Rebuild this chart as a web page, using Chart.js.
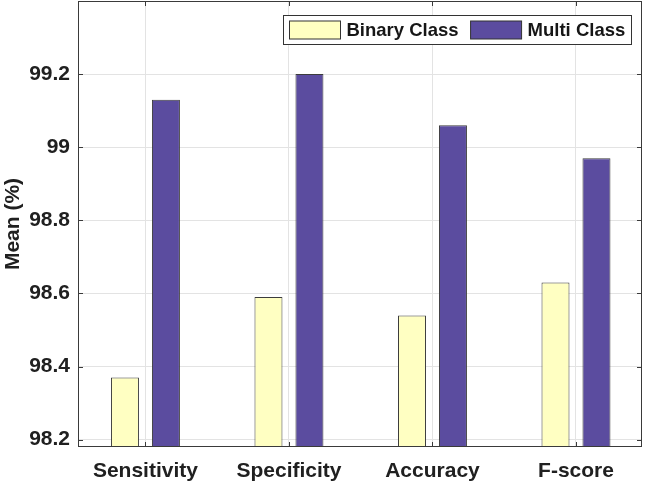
<!DOCTYPE html>
<html>
<head>
<meta charset="utf-8">
<script src="https://cdn.jsdelivr.net/npm/chart.js@4/dist/chart.umd.min.js"></script>
<style>
html,body{margin:0;padding:0;background:#fff;}
#wrap{width:645px;height:485px;position:relative;}
</style>
</head>
<body>
<div id="wrap"><canvas id="c" width="645" height="485"></canvas></div>
<script>
const categories = ['Sensitivity', 'Specificity', 'Accuracy', 'F-score'];
const binaryClass = [98.37, 98.59, 98.54, 98.63];
const multiClass = [99.13, 99.20, 99.06, 98.97];
const seriesNames = ['Binary Class', 'Multi Class'];
const yTicks = [98.2, 98.4, 98.6, 98.8, 99.0, 99.2];
const yTickLabels = ['98.2', '98.4', '98.6', '98.8', '99', '99.2'];

const FONT = "'Liberation Sans', Arial, Helvetica, sans-serif";
const AXIS = '#3a3a3a';
const GRID = '#e3e3e3';
const TEXT = '#202020';

const toXY = arr => arr.map((v, i) => ({x: i + 1, y: v}));

const framePlugin = {
  id: 'frame',
  afterDatasetsDraw(chart) {
    const {ctx, chartArea: a, scales} = chart;
    ctx.save();
    ctx.strokeStyle = AXIS;
    ctx.lineWidth = 1;
    ctx.strokeRect(Math.round(a.left) + 0.5, Math.round(a.top) + 0.5,
      Math.round(a.right - a.left) - 1, Math.round(a.bottom - a.top) - 1);
    const tl = 5;
    ctx.beginPath();
    scales.y.ticks.forEach(t => {
      const y = Math.round(scales.y.getPixelForValue(t.value)) + 0.5;
      ctx.moveTo(a.left, y); ctx.lineTo(a.left + tl, y);
      ctx.moveTo(a.right, y); ctx.lineTo(a.right - tl, y);
    });
    scales.x.ticks.forEach(t => {
      const x = Math.round(scales.x.getPixelForValue(t.value)) + 0.5;
      ctx.moveTo(x, a.bottom); ctx.lineTo(x, a.bottom - tl);
      ctx.moveTo(x, a.top); ctx.lineTo(x, a.top + tl);
    });
    ctx.stroke();

    const fs = 18.5;
    ctx.font = 'bold ' + fs + 'px ' + FONT;
    const sw = 51, sh = 18, gapS = 6, gapItem = 12, padL = 6, padR = 6;
    const items = chart.data.datasets.map(d => ({label: d.label, fill: d.backgroundColor, w: ctx.measureText(d.label).width}));
    let total = padL + padR;
    items.forEach((it, i) => { total += sw + gapS + it.w + (i < items.length - 1 ? gapItem : 0); });
    total = Math.round(total);
    const bx = Math.round(a.right - 11 - total) + 0.5;
    const by = Math.round(a.top + 14) + 0.5;
    const bh = 29;
    ctx.fillStyle = '#fff';
    ctx.fillRect(bx, by, total, bh);
    ctx.strokeStyle = '#333';
    ctx.strokeRect(bx, by, total, bh);
    let x = bx + padL;
    ctx.textBaseline = 'middle';
    ctx.textAlign = 'left';
    items.forEach((it) => {
      ctx.fillStyle = it.fill;
      ctx.fillRect(x, by + 5.5, sw, sh);
      ctx.strokeStyle = '#333';
      ctx.strokeRect(x, by + 5.5, sw, sh);
      ctx.fillStyle = '#161616';
      ctx.fillText(it.label, x + sw + gapS, by + bh / 2 + 1);
      x += sw + gapS + it.w + gapItem;
    });
    ctx.restore();
  }
};

new Chart(document.getElementById('c'), {
  type: 'bar',
  data: {
    datasets: [
      {label: seriesNames[0], data: toXY(binaryClass), backgroundColor: '#FFFFC2', borderColor: '#3c3c3c', borderWidth: 1},
      {label: seriesNames[1], data: toXY(multiClass), backgroundColor: '#5B4C9F', borderColor: '#3c3c3c', borderWidth: 1}
    ]
  },
  options: {
    responsive: false,
    animation: false,
    devicePixelRatio: 1,
    categoryPercentage: 0.571,
    barPercentage: 0.683,
    layout: {padding: {top: 1, right: 3, left: 0, bottom: 0}},
    plugins: {legend: {display: false}, tooltip: {enabled: false}},
    scales: {
      x: {
        type: 'linear',
        min: 0.53, max: 4.46,
        offset: false,
        afterBuildTicks: s => { s.ticks = categories.map((c, i) => ({value: i + 1})); },
        afterFit: s => { s.height = 38; s.paddingLeft = 0; s.paddingRight = 0; },
        grid: {offset: false, color: GRID, drawTicks: false},
        border: {display: false},
        ticks: {
          autoSkip: false, maxRotation: 0, padding: 12, color: TEXT,
          font: {family: FONT, size: 21, weight: 'bold'},
          callback: v => categories[Math.round(v) - 1]
        }
      },
      y: {
        min: 98.18, max: 99.4,
        afterBuildTicks: s => { s.ticks = yTicks.map(v => ({value: v})); },
        afterFit: s => { s.width = 78; s.paddingTop = 0; s.paddingBottom = 0; },
        grid: {color: GRID, drawTicks: false},
        border: {display: false},
        ticks: {
          padding: 8, color: TEXT,
          font: {family: FONT, size: 21, weight: 'bold'},
          callback: v => { const i = yTicks.findIndex(t => Math.abs(t - v) < 1e-6); return i >= 0 ? yTickLabels[i] : ''; }
        },
        title: {display: true, text: 'Mean (%)', color: TEXT, padding: {top: 1, bottom: 0},
          font: {family: FONT, size: 21, weight: 'bold'}}
      }
    }
  },
  plugins: [framePlugin]
});
</script>
</body>
</html>
